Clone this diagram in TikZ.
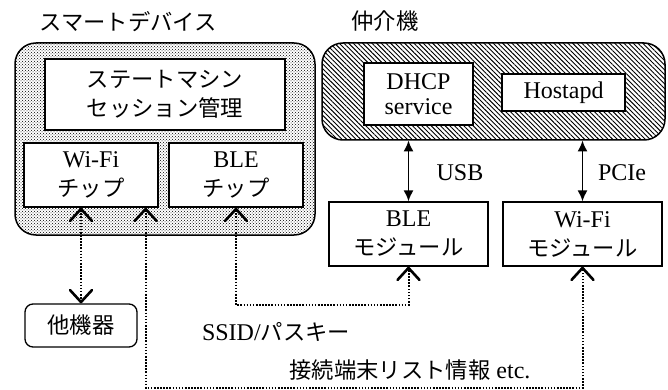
\documentclass[tikz,border=0pt]{standalone}
\usepackage{fontspec}
\setmainfont{Liberation Serif}
\newfontfamily\jp{Noto Sans CJK JP}[Scale=0.93]
\usetikzlibrary{patterns,patterns.meta,arrows.meta,calc}
\begin{document}
\begin{tikzpicture}[x=1pt,y=-1pt,
  txt/.style={inner sep=0pt, align=center, font=\fontsize{24}{29}\selectfont},
  box/.style={txt, draw, line width=1.3pt, fill=white},
  outer/.style={draw, line width=1.5pt, rounded corners=21pt},
  dotline/.style={line width=2pt, dash pattern=on 1.6pt off 1.5pt,
     {Straight Barb[length=12pt,width=22pt,line width=2.6pt,round]}-{Straight Barb[length=12pt,width=22pt,line width=2.6pt,round]}},
  busline/.style={line width=1.6pt, {Latex[length=11pt,width=10pt]}-{Latex[length=11pt,width=10pt]}}
]
\useasboundingbox (0,0) rectangle (668,390);
% titles
\node[txt] (t1) at (128,22) {\jp スマートデバイス};
\node[txt] (t2) at (385,21) {\jp 仲介機};
% outer boxes
\path[outer, pattern=crosshatch dots] (15,43) rectangle (315,235);
\node[outer, pattern={Lines[angle=-45,distance=3.3pt,line width=0.9pt]}, minimum width=343pt, minimum height=97pt, inner sep=0pt] (med) at (493.5,91.5) {};
\node[inner sep=0pt, minimum width=300pt, minimum height=192pt] (sd) at (165,139) {};
% smart device inner
\node[box, minimum width=240pt, minimum height=71pt] (sm) at (165,94.5) {\jp ステートマシン\\\jp セッション管理};
\node[box, minimum width=134pt, minimum height=64pt] (wchip) at (91,175) {Wi-Fi\\\jp チップ};
\node[box, minimum width=134pt, minimum height=64pt] (bchip) at (236,175) {BLE\\\jp チップ};
% mediator inner
\node[box, minimum width=109pt, minimum height=62pt] (dhcp) at (418.5,94) {DHCP\\[-4pt]service};
\node[box, minimum width=123pt, minimum height=37pt] (host) at (563.5,92.5) {Hostapd};
% modules
\node[box, minimum width=159pt, minimum height=64pt] (blem) at (408.5,234) {BLE\\\jp モジュール};
\node[box, minimum width=159pt, minimum height=64pt] (wifim) at (582.5,234) {Wi-Fi\\\jp モジュール};
% other device
\node[box, rounded corners=8pt, minimum width=112pt, minimum height=43pt] (other) at (81,325.5) {\jp 他機器};
% bus arrows
\draw[busline] (blem.north |- med.south) -- (blem.north);
\draw[busline] (wifim.north |- med.south) -- (wifim.north);
\node[txt] (usb) at (460,173) {USB};
\node[txt] (pcie) at (622,173) {PCIe};
% dotted connectors
\draw[dotline] (wchip.south -| other.north) -- (other.north);
\coordinate (c1) at ($(wchip.south east)+(-13,0)$);
\draw[dotline] (c1) -- (c1 |- 0,388) -- (wifim.south |- 0,388) -- (wifim.south);
\draw[dotline] (bchip.south) -- (bchip.south |- 0,305) -- (blem.south |- 0,305) -- (blem.south);
% labels
\node[txt] (ssid) at (276,332) {SSID/{\jp パスキー}};
\node[txt] (list) at (410,370) {{\jp 接続端末リスト情報} etc.};
\end{tikzpicture}
\end{document}
